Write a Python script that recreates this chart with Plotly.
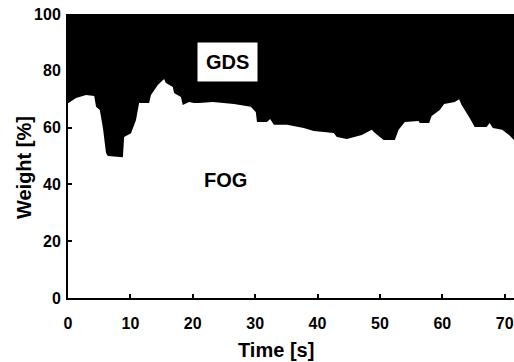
import plotly.graph_objects as go

# Time [s] and FOG weight [%] (GDS is the remainder to 100 %)
time_s = [0, 1.3, 2.9, 4.2, 4.5, 5.1, 5.6, 6.1, 6.4, 8.8, 9.0, 10.1, 10.9, 11.4, 13.0,
          13.3, 14.4, 15.4, 15.7, 16.8, 17.0, 18.1, 18.4, 19.4, 20.2, 21.0, 23.2,
          26.6, 29.3, 30.1, 30.3, 31.9, 32.4, 33.0, 35.1, 37.8, 39.4, 42.6, 43.1,
          44.7, 47.1, 48.7, 49.2, 50.6, 52.4, 53.0, 54.0, 56.2, 56.4, 57.9, 58.3,
          59.6, 60.3, 62.0, 62.7, 63.1, 64.3, 65.2, 67.1, 67.6, 68.1, 69.6, 70.7, 71.5]
fog = [68.6, 70.4, 71.5, 71.1, 67.3, 66.2, 59.9, 51.0, 50.0, 49.6, 56.7, 58.0, 62.7,
       68.7, 68.7, 71.5, 75.0, 77.1, 75.7, 74.3, 72.2, 70.8, 68.0, 69.0, 68.7, 68.7,
       69.0, 68.3, 67.3, 65.5, 62.0, 62.0, 63.0, 61.0, 61.0, 59.9, 58.8, 58.1, 56.7,
       56.0, 57.4, 59.2, 58.1, 55.6, 55.6, 59.2, 62.0, 62.3, 61.6, 61.6, 64.1,
       66.2, 68.3, 69.0, 70.0, 68.0, 63.7, 60.2, 60.2, 61.6, 59.9, 59.2, 57.4, 55.6]
gds = [100 - v for v in fog]

x_ticks = [0, 10, 20, 30, 40, 50, 60, 70]
y_ticks = [0, 20, 40, 60, 80, 100]

FONT = "Liberation Sans"

fig = go.Figure()
fig.add_trace(go.Scatter(x=time_s, y=fog, name="FOG", stackgroup="w", mode="lines",
                         line=dict(color="white", width=0), fillcolor="white"))
fig.add_trace(go.Scatter(x=time_s, y=gds, name="GDS", stackgroup="w", mode="lines",
                         line=dict(color="black", width=0), fillcolor="black"))

lab = dict(family=FONT, size=20, color="black", weight="bold")
fig.add_annotation(x=25.5, y=83.1, text="GDS", showarrow=False, bgcolor="white",
                   borderpad=8, font=lab)
fig.add_annotation(x=25.3, y=41.5, text="FOG", showarrow=False, font=lab)
fig.add_annotation(xref="paper", yref="paper", x=0.466, y=-0.183, xanchor="center",
                   yanchor="middle", text="Time [s]", showarrow=False, font=lab)
fig.add_annotation(xref="paper", yref="paper", x=-0.0987, y=0.461, xanchor="center",
                   yanchor="middle", text="Weight [%]", textangle=-90,
                   showarrow=False, font=lab)

tickf = dict(family=FONT, size=16, color="black", weight="bold")
fig.update_layout(
    width=514, height=362,
    margin=dict(l=68, r=0, t=14, b=64),
    paper_bgcolor="white", plot_bgcolor="white",
    showlegend=False,
    font=dict(family=FONT, size=16, color="black"),
)
fig.update_xaxes(range=[0, 71.5], tickvals=x_ticks, ticks="inside", ticklen=4,
                 tickwidth=2, tickcolor="black", showgrid=False, zeroline=False,
                 showline=True, linecolor="black", linewidth=2,
                 ticklabelstandoff=10, tickfont=tickf)
fig.update_yaxes(range=[0, 100], tickvals=y_ticks, ticks="inside", ticklen=4,
                 tickwidth=2, tickcolor="black", showgrid=False, zeroline=False,
                 showline=True, linecolor="black", linewidth=2,
                 ticklabelstandoff=2, tickfont=tickf)

fig.write_html("out.html")
